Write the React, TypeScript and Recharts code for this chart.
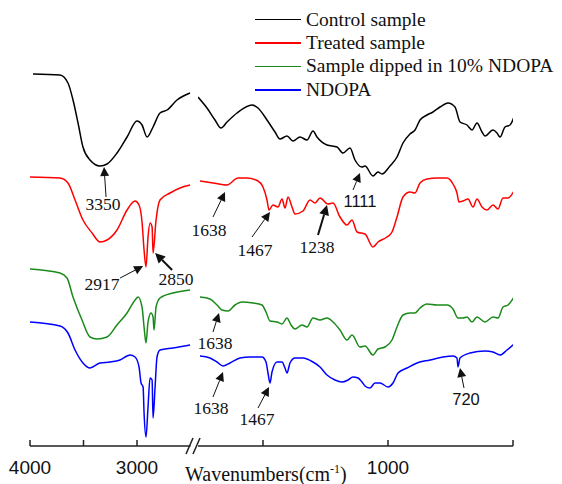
import React from 'react';
import { LineChart, Line, XAxis, YAxis, ReferenceDot, Legend } from 'recharts';

// wavenumbers (cm-1) and relative transmittance, stacked offsets included
const CONTROL_L_WN = [3972, 3720, 3645, 3598, 3551, 3505, 3439, 3346, 3280, 3187, 3093, 3000, 2953, 2906, 2850, 2785, 2719, 2626, 2504];
const CONTROL_L_T = [370, 369, 361, 344, 321, 297, 284, 278, 280, 291, 307, 323, 319, 307, 317, 331, 334, 344, 351];
const CONTROL_R_WN = [1760, 1724, 1692, 1668, 1644, 1604, 1544, 1520, 1484, 1452, 1432, 1404, 1380, 1352, 1324, 1300, 1284, 1244, 1204, 1180, 1152, 1132, 1104, 1092, 1060, 1040, 1024, 992, 964, 940, 912, 892, 872, 844, 820, 792, 760, 732, 712, 684, 664, 644, 624, 612, 580, 564, 552, 532, 512, 496];
const CONTROL_R_T = [347, 336, 324, 316, 322, 331, 339, 336, 324, 312, 305, 308, 303, 307, 304, 313, 307, 299, 297, 291, 296, 284, 277, 278, 268, 272, 270, 278, 287, 301, 310, 314, 324, 329, 332, 337, 341, 337, 322, 319, 314, 321, 312, 308, 314, 311, 307, 317, 319, 327];

const TREATED_L_WN = [4000, 3720, 3645, 3579, 3505, 3420, 3346, 3280, 3187, 3093, 3018, 2981, 2953, 2934, 2916, 2897, 2878, 2859, 2850, 2822, 2785, 2691, 2598, 2504];
const TREATED_L_T = [267, 266, 261, 244, 224, 211, 202, 204, 214, 234, 243, 239, 222, 194, 177, 207, 221, 217, 191, 224, 244, 251, 256, 259];
const TREATED_R_WN = [1752, 1700, 1644, 1600, 1564, 1520, 1500, 1484, 1476, 1460, 1440, 1424, 1412, 1400, 1384, 1372, 1340, 1312, 1292, 1272, 1240, 1220, 1192, 1164, 1144, 1124, 1092, 1060, 1040, 1004, 984, 964, 940, 912, 892, 872, 844, 804, 764, 740, 724, 716, 700, 680, 660, 644, 624, 604, 580, 560, 540, 520, 496];
const TREATED_R_T = [263, 261, 259, 266, 266, 263, 257, 244, 234, 239, 237, 245, 236, 247, 237, 230, 233, 244, 241, 246, 240, 241, 227, 219, 224, 212, 210, 197, 202, 207, 212, 227, 247, 252, 251, 261, 265, 266, 266, 260, 251, 242, 243, 245, 237, 245, 237, 234, 239, 235, 246, 246, 253];

const DIPPED_L_WN = [4000, 3720, 3654, 3598, 3514, 3439, 3374, 3280, 3187, 3093, 3018, 2990, 2953, 2934, 2916, 2897, 2869, 2850, 2841, 2822, 2785, 2663, 2504];
const DIPPED_L_T = [175, 171, 166, 147, 124, 107, 105, 107, 119, 131, 144, 147, 137, 117, 101, 122, 131, 127, 114, 137, 146, 151, 154];
const DIPPED_R_WN = [1752, 1712, 1684, 1664, 1640, 1612, 1584, 1540, 1504, 1488, 1472, 1444, 1424, 1404, 1388, 1372, 1344, 1324, 1300, 1272, 1244, 1220, 1192, 1164, 1144, 1112, 1092, 1060, 1040, 1012, 984, 964, 940, 912, 892, 872, 844, 804, 764, 740, 720, 700, 684, 664, 644, 612, 580, 560, 540, 520, 496];
const DIPPED_R_T = [147, 145, 139, 134, 133, 139, 142, 141, 139, 132, 123, 122, 120, 126, 119, 115, 119, 117, 126, 124, 126, 122, 114, 104, 109, 97, 98, 89, 95, 97, 104, 117, 129, 131, 131, 136, 140, 139, 139, 135, 126, 126, 127, 122, 127, 122, 127, 126, 137, 139, 147];

const NDOPA_L_WN = [4000, 3720, 3645, 3579, 3505, 3439, 3346, 3252, 3159, 3065, 3018, 2981, 2962, 2943, 2934, 2916, 2897, 2878, 2859, 2850, 2831, 2813, 2785, 2663, 2504];
const NDOPA_L_T = [122, 118, 111, 94, 81, 76, 81, 82, 84, 89, 87, 77, 61, 57, 31, 7, 37, 66, 64, 26, 57, 87, 94, 96, 99];
const NDOPA_R_WN = [1752, 1712, 1684, 1660, 1632, 1592, 1552, 1504, 1488, 1480, 1472, 1464, 1444, 1424, 1412, 1404, 1392, 1372, 1340, 1300, 1272, 1244, 1212, 1184, 1160, 1140, 1120, 1104, 1092, 1072, 1052, 1032, 1000, 980, 960, 924, 884, 832, 780, 740, 724, 720, 712, 672, 612, 580, 552, 524, 496];
const NDOPA_R_T = [88, 86, 82, 78, 81, 86, 87, 87, 82, 71, 61, 72, 82, 82, 76, 71, 81, 86, 86, 82, 77, 69, 64, 62, 64, 67, 66, 62, 58, 56, 61, 61, 57, 61, 71, 76, 81, 84, 87, 88, 86, 77, 86, 91, 93, 92, 89, 94, 100];

const SERIES_NAMES = ['Control sample', 'Treated sample', 'Sample dipped in 10% NDOPA', 'NDOPA'];
const SERIES_COLORS = ['#000000', '#ff0000', '#1a8a1a', '#0000ff'];

const LEFT_TICKS = [4000, 3500, 3000];
const RIGHT_TICKS = [1500, 1000, 500];
const LABELED_TICKS = [4000, 3000, 1000];

// peak annotations: label, arrow tip position in data units
const LEFT_PEAK_LABELS = ['3350', '2917', '2850'];
const LEFT_PEAK_WN = [3308, 2943, 2831];
const LEFT_PEAK_T = [277, 178, 191];
const RIGHT_PEAK_LABELS = ['1111', '1638', '1467', '1238', '1638', '1638', '1467', '720'];
const RIGHT_PEAK_WN = [1112, 1652, 1472, 1244, 1676, 1660, 1476, 712];
const RIGHT_PEAK_T = [271, 252, 232, 239, 131, 72, 57, 76];

// arrow tail offset, label offset (px from tip), font, arrow weight
const LEFT_PEAK_STYLE = [
  { tail: [2, 30], text: [-1, 43], sans: false, thick: false },
  { tail: [-23, 12], text: [-41, 24], sans: false, thick: false },
  { tail: [17, 17], text: [21, 32], sans: false, thick: true },
];
const RIGHT_PEAK_STYLE = [
  { tail: [-7, 17], text: [0, 34], sans: true, thick: false },
  { tail: [-12, 25], text: [-16, 44], sans: false, thick: false },
  { tail: [-18, 25], text: [-15, 44], sans: false, thick: false },
  { tail: [-9, 30], text: [-10, 48], sans: false, thick: true },
  { tail: [-6, 19], text: [-4, 36], sans: false, thick: false },
  { tail: [-10, 25], text: [-12, 42], sans: false, thick: false },
  { tail: [-11, 21], text: [-12, 38], sans: false, thick: false },
  { tail: [4, 20], text: [6, 37], sans: true, thick: false },
];

const zip = (wn: number[], t: number[]) => wn.map((w, i) => ({ wn: w, t: t[i] }));

const LEFT_DATA = [
  zip(CONTROL_L_WN, CONTROL_L_T),
  zip(TREATED_L_WN, TREATED_L_T),
  zip(DIPPED_L_WN, DIPPED_L_T),
  zip(NDOPA_L_WN, NDOPA_L_T),
];
const RIGHT_DATA = [
  zip(CONTROL_R_WN, CONTROL_R_T),
  zip(TREATED_R_WN, TREATED_R_T),
  zip(DIPPED_R_WN, DIPPED_R_T),
  zip(NDOPA_R_WN, NDOPA_R_T),
];

const SERIF = '"Liberation Serif", "Times New Roman", serif';
const SANS = '"Liberation Sans", Arial, sans-serif';
const AXIS_COLOR = '#222';

const AxisTick = (props: any) => {
  const { x, y, payload } = props;
  return (
    <g>
      <line x1={x} x2={x} y1={y} y2={y - 6} stroke={AXIS_COLOR} strokeWidth={1.5} />
      {LABELED_TICKS.includes(payload.value) && (
        <text x={x} y={y + 28} textAnchor="middle" fontFamily={SANS} fontSize={19} fill="#111">
          {payload.value}
        </text>
      )}
    </g>
  );
};

const PeakArrow = ({ cx, cy, label, style }: any) => {
  const tx = cx + style.tail[0];
  const ty = cy + style.tail[1];
  const len = Math.hypot(cx - tx, cy - ty);
  const ux = (cx - tx) / len;
  const uy = (cy - ty) / len;
  const head = style.thick ? 10 : 9;
  const half = style.thick ? 5 : 4.5;
  const bx = cx - ux * head;
  const by = cy - uy * head;
  const pts = `${cx},${cy} ${bx - uy * half},${by + ux * half} ${bx + uy * half},${by - ux * half}`;
  return (
    <g>
      <line x1={tx} y1={ty} x2={bx} y2={by} stroke="#111" strokeWidth={style.thick ? 2 : 1} />
      <polygon points={pts} fill="#111" />
      <text
        x={cx + style.text[0]}
        y={cy + style.text[1]}
        textAnchor="middle"
        fontFamily={style.sans ? SANS : SERIF}
        fontSize={style.sans ? 16.5 : 17.5}
        fill="#111"
      >
        {label}
      </text>
    </g>
  );
};

const LegendContent = () => (
  <div style={{ fontFamily: SERIF, fontSize: 19.5, color: '#111' }}>
    {SERIES_NAMES.map((name, i) => (
      <div key={name} style={{ display: 'flex', alignItems: 'center', height: 23.4, whiteSpace: 'nowrap' }}>
        <span style={{ display: 'inline-block', width: 46, height: 1.5, background: SERIES_COLORS[i], marginRight: 5 }} />
        <span>{name}</span>
      </div>
    ))}
  </div>
);

const App: React.FC = () => {
  return (
    <div style={{ position: 'absolute', left: 0, top: 0, width: 562, height: 484, background: '#fff', overflow: 'hidden' }}>
      <div style={{ position: 'absolute', left: 0, top: 0 }}>
        <LineChart width={200} height={484} margin={{ top: 0, right: 9.5, bottom: 0, left: 30 }}>
          <XAxis
            type="number"
            dataKey="wn"
            domain={[2500, 4000]}
            reversed
            allowDataOverflow
            ticks={LEFT_TICKS}
            interval={0}
            height={38}
            tickSize={0}
            tickMargin={0}
            tickLine={false}
            axisLine={{ stroke: AXIS_COLOR, strokeWidth: 1.5 }}
            tick={(p: any) => <AxisTick {...p} />}
          />
          <YAxis hide type="number" domain={[-2, 444]} allowDataOverflow />
          {LEFT_DATA.map((d, i) => (
            <Line
              key={SERIES_NAMES[i]}
              data={d}
              dataKey="t"
              name={SERIES_NAMES[i]}
              type="monotone"
              stroke={SERIES_COLORS[i]}
              strokeWidth={1.5}
              dot={false}
              isAnimationActive={false}
            />
          ))}
          {LEFT_PEAK_LABELS.map((lab, i) => (
            <ReferenceDot
              key={`l-${i}`}
              x={LEFT_PEAK_WN[i]}
              y={LEFT_PEAK_T[i]}
              r={0}
              shape={(p: any) => <PeakArrow cx={p.cx} cy={p.cy} label={lab} style={LEFT_PEAK_STYLE[i]} />}
            />
          ))}
        </LineChart>
      </div>
      <div style={{ position: 'absolute', left: 190, top: 0 }}>
        <LineChart width={372} height={484} margin={{ top: 0, right: 49, bottom: 0, left: 8 }}>
          <XAxis
            type="number"
            dataKey="wn"
            domain={[500, 1760]}
            reversed
            allowDataOverflow
            ticks={RIGHT_TICKS}
            interval={0}
            height={38}
            tickSize={0}
            tickMargin={0}
            tickLine={false}
            axisLine={{ stroke: AXIS_COLOR, strokeWidth: 1.5 }}
            tick={(p: any) => <AxisTick {...p} />}
          />
          <YAxis hide type="number" domain={[-2, 444]} allowDataOverflow />
          <Legend
            layout="horizontal"
            verticalAlign="middle"
            align="center"
            content={() => <LegendContent />}
            wrapperStyle={{ left: 65, top: 8, width: 320 }}
          />
          {RIGHT_DATA.map((d, i) => (
            <Line
              key={SERIES_NAMES[i]}
              data={d}
              dataKey="t"
              name={SERIES_NAMES[i]}
              type="monotone"
              stroke={SERIES_COLORS[i]}
              strokeWidth={1.5}
              dot={false}
              isAnimationActive={false}
            />
          ))}
          {RIGHT_PEAK_LABELS.map((lab, i) => (
            <ReferenceDot
              key={`r-${i}`}
              x={RIGHT_PEAK_WN[i]}
              y={RIGHT_PEAK_T[i]}
              r={0}
              shape={(p: any) => <PeakArrow cx={p.cx} cy={p.cy} label={lab} style={RIGHT_PEAK_STYLE[i]} />}
            />
          ))}
        </LineChart>
      </div>
      <svg width={562} height={484} style={{ position: 'absolute', left: 0, top: 0, pointerEvents: 'none' }}>
        <line x1={186} y1={454} x2={193} y2={438} stroke={AXIS_COLOR} strokeWidth={1.6} />
        <line x1={193} y1={454} x2={200} y2={438} stroke={AXIS_COLOR} strokeWidth={1.6} />
        <text x={185} y={481} fontFamily={SERIF} fontSize={20} fill="#111">
          Wavenumbers(cm
          <tspan fontSize={12} dy={-8}>-1</tspan>
          <tspan dy={8}>)</tspan>
        </text>
      </svg>
    </div>
  );
};

export default App;
